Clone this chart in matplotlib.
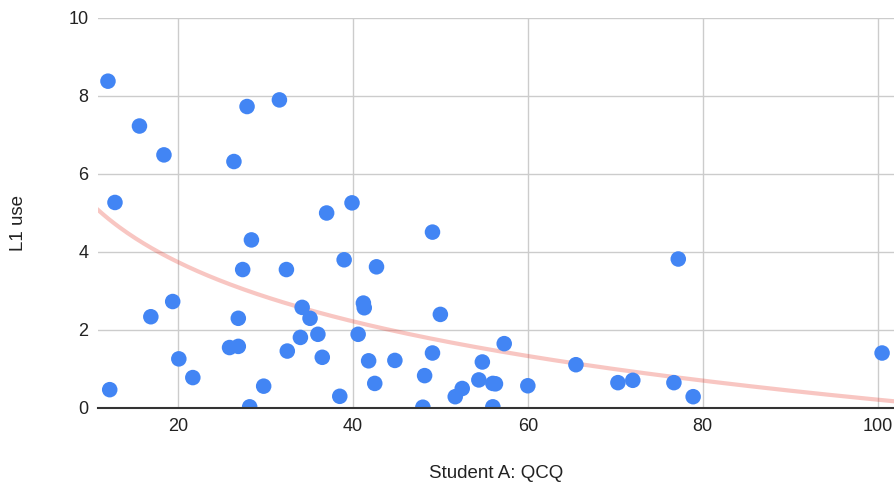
import numpy as np
import matplotlib.pyplot as plt

plt.rcParams['font.family'] = ['Liberation Sans', 'DejaVu Sans']

# Student A: QCQ score vs. L1 use
qcq = [12.0, 15.6, 18.4, 12.8, 26.4, 27.9, 31.6, 37.0, 39.9, 49.1, 28.4,
       12.2, 16.9, 19.4, 20.1, 21.7, 25.9, 26.9, 26.9, 27.4, 28.2, 29.8,
       32.4, 32.5, 34.0, 34.2, 35.1, 36.0, 36.5, 38.5, 39.0, 40.6, 41.2,
       41.3, 41.8, 42.5, 42.7, 44.8, 48.0, 48.2, 49.1, 50.0,
       51.7, 52.5, 54.4, 54.8, 56.0, 56.3, 56.0, 57.3, 60.0, 65.5, 70.3,
       72.0, 76.7, 77.2, 78.9, 100.5]
l1_use = [8.38, 7.23, 6.49, 5.27, 6.32, 7.73, 7.90, 5.00, 5.26, 4.51, 4.31,
          0.47, 2.34, 2.73, 1.26, 0.78, 1.55, 1.58, 2.30, 3.55, 0.03, 0.56,
          3.55, 1.46, 1.81, 2.58, 2.30, 1.89, 1.30, 0.30, 3.80, 1.89, 2.69,
          2.57, 1.21, 0.63, 3.62, 1.22, 0.02, 0.83, 1.41, 2.40,
          0.29, 0.50, 0.72, 1.18, 0.63, 0.62, 0.03, 1.65, 0.57, 1.11, 0.65,
          0.71, 0.65, 3.82, 0.29, 1.41]

x = np.array(qcq)
y = np.array(l1_use)

# logarithmic trendline, like the spreadsheet one
b, a = np.polyfit(np.log(x), y, 1)

W, H = 895, 482
fig = plt.figure(figsize=(W / 100, H / 100), dpi=100)
ax = fig.add_axes([98 / W, 1 - 408 / H, 1 - 98 / W + 0.01, 390 / H])

xs = np.linspace(10.86, 103, 300)
ax.plot(xs, a + b * np.log(xs), color='#ea4335', alpha=0.3, lw=3, zorder=2)
ax.scatter(x, y, s=125, color='#4285f4', edgecolors='none', zorder=3)

ax.set_xlim(10.86, 103)
ax.set_ylim(0, 10)
ax.set_xticks([20, 40, 60, 80, 100])
ax.set_yticks([0, 2, 4, 6, 8, 10])
ax.grid(True, color='#cccccc', lw=1)
ax.set_axisbelow(True)
for s in ['top', 'right', 'left']:
    ax.spines[s].set_visible(False)
ax.spines['bottom'].set_color('#333333')
ax.spines['bottom'].set_linewidth(1.5)
ax.spines['bottom'].set_zorder(4)
ax.tick_params(length=0, labelsize=13, labelcolor='#222222')
ax.tick_params(axis='x', pad=7)
ax.tick_params(axis='y', pad=7)

fig.text(496 / W, 1 - 473 / H, 'Student A: QCQ', fontsize=13.5, color='#222222',
         ha='center', va='center')
fig.text(18.5 / W, 1 - 223 / H, 'L1 use', fontsize=13.5, color='#222222',
         ha='center', va='center', rotation=90)

plt.savefig('out.png', dpi=100)
